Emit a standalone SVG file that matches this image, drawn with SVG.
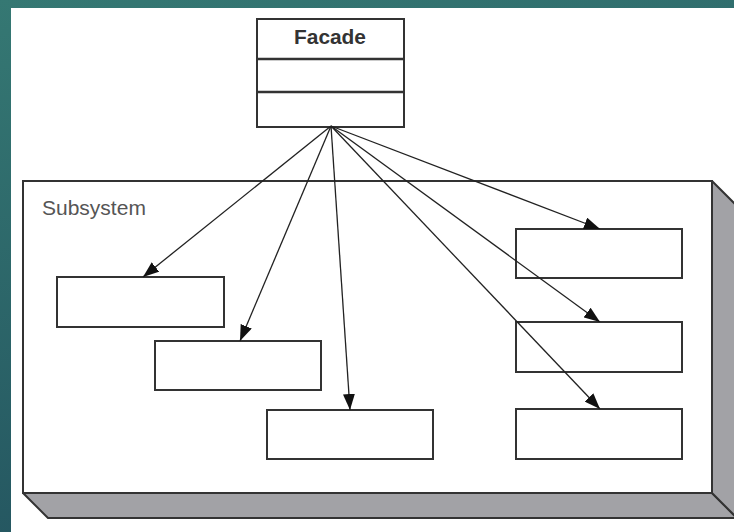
<svg xmlns="http://www.w3.org/2000/svg" width="734" height="532" viewBox="0 0 734 532">
<defs>
<linearGradient id="bg" x1="0" y1="0" x2="0.3" y2="1">
<stop offset="0" stop-color="#357873"/>
<stop offset="1" stop-color="#245560"/>
</linearGradient>
<marker id="ah" viewBox="0 0 16 12" refX="16" refY="6" markerWidth="16" markerHeight="12" markerUnits="userSpaceOnUse" orient="auto">
<path d="M0,0 L16,6 L0,12 Z" fill="#111"/>
</marker>
<style>
.box{fill:#fff;stroke:#333;stroke-width:2}
.shade{fill:#a2a2a6;stroke:#333;stroke-width:2;stroke-linejoin:round}
.conn{stroke:#222;stroke-width:1.3;fill:none;marker-end:url(#ah)}
.lbl{font-family:"Liberation Sans",Arial,sans-serif}
</style>
</defs>
<rect x="0" y="0" width="734" height="532" fill="url(#bg)"/>
<rect x="11" y="8" width="723" height="524" fill="#fff"/>
<g id="subsystem">
<path class="shade" d="M23,493 L712,493 L737,518 L48,518 Z"/>
<path class="shade" d="M712,181 L737,206 L737,518 L712,493 Z"/>
<rect class="box" x="23" y="181" width="689" height="312"/>
<text class="lbl" x="42" y="215" font-size="21" fill="#555">Subsystem</text>
</g>
<g id="facade">
<rect class="box" x="257" y="19" width="147" height="108" stroke-width="2.4"/>
<line x1="257" y1="59" x2="404" y2="59" stroke="#333" stroke-width="2.4"/>
<line x1="257" y1="92" x2="404" y2="92" stroke="#333" stroke-width="2.4"/>
<text class="lbl" x="330" y="44" font-size="20" font-weight="bold" fill="#333" text-anchor="middle" textLength="72" lengthAdjust="spacingAndGlyphs">Facade</text>
</g>
<g id="c1"><rect class="box" x="57" y="277" width="167" height="50"/></g>
<g id="c2"><rect class="box" x="155" y="341" width="166" height="49"/></g>
<g id="c3"><rect class="box" x="267" y="410" width="166" height="49"/></g>
<g id="c4"><rect class="box" x="516" y="229" width="166" height="49"/></g>
<g id="c5"><rect class="box" x="516" y="322" width="166" height="50"/></g>
<g id="c6"><rect class="box" x="516" y="409" width="166" height="50"/></g>
<g id="connectors">
<line class="conn" x1="331" y1="126" x2="143" y2="277"/>
<line class="conn" x1="331" y1="126" x2="240" y2="341"/>
<line class="conn" x1="331" y1="126" x2="350" y2="410"/>
<line class="conn" x1="331" y1="126" x2="600" y2="229"/>
<line class="conn" x1="331" y1="126" x2="600" y2="322"/>
<line class="conn" x1="331" y1="126" x2="600" y2="409"/>
</g>
</svg>
